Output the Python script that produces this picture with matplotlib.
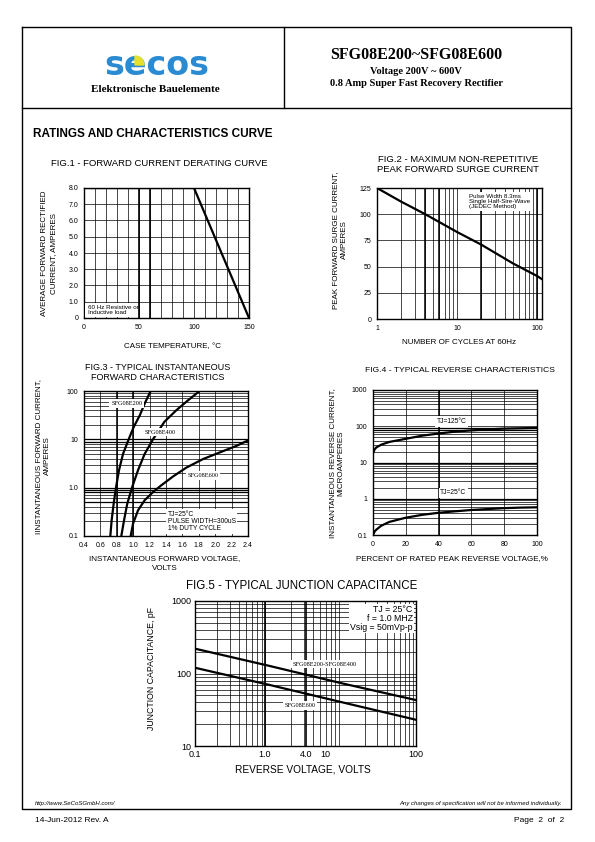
import matplotlib
matplotlib.use("Agg")
import matplotlib.pyplot as plt
import numpy as np
from matplotlib.patches import Rectangle, Wedge
from matplotlib.ticker import LogLocator, MultipleLocator, NullFormatter

W, H = 595, 842

# ---- values ----
# Fig.1 derating
derate_temp_c = [0, 100, 150]
derate_current_a = [8.0, 8.0, 0.0]

# Fig.2 surge current
surge_cycles = [1, 2, 4, 10, 20, 50, 100, 115]
surge_current_a = [125, 112, 100, 83, 71, 53, 41, 38]

# Fig.3 forward characteristics
vf_e200 = [0.721, 0.737, 0.762, 0.790, 0.827, 0.876, 0.945, 1.006, 1.079, 1.14, 1.213]
if_e200 = [0.1, 0.21, 0.47, 1.0, 2.3, 5.0, 10, 18, 31, 55, 100]
vf_e400 = [0.855, 0.888, 0.928, 0.985, 1.059, 1.14, 1.241, 1.38, 1.526, 1.668, 1.81]
if_e400 = [0.1, 0.21, 0.47, 1.0, 2.3, 5.0, 10, 23, 40, 64, 100]
vf_e600 = [0.969, 0.998, 1.059, 1.14, 1.241, 1.343, 1.485, 1.648, 1.851, 2.095, 2.258, 2.4]
if_e600 = [0.1, 0.18, 0.34, 0.55, 0.81, 1.12, 1.7, 2.6, 3.9, 5.7, 7.3, 9.5]

# Fig.4 reverse characteristics
rev_pct = [0, 1, 2, 5, 10, 20, 30, 40, 50, 60, 70, 80, 90, 100]
ir_125c = [18, 23, 26, 31, 37, 45, 55, 63, 71, 77, 82, 86, 88, 90]
ir_25c = [0.1, 0.125, 0.14, 0.18, 0.23, 0.30, 0.36, 0.41, 0.45, 0.49, 0.52, 0.55, 0.57, 0.58]

# Fig.5 junction capacitance
vr_volts = [0.1, 1, 10, 100]
cj_e200_e400 = [220, 128, 73, 43]
cj_e600 = [120, 70, 40, 23]
cap_tick_pos = [0.1, 0.89, 3.2, 5.8, 100]
cap_tick_labels = ["0.1", "1.0", "4.0", "10", "100"]

SANS = "Liberation Sans"
SERIF = "Liberation Serif"
BLUE = "#2a8bd3"

plt.rcParams["font.family"] = SANS

fig = plt.figure(figsize=(W / 100, H / 100), dpi=100)

# page overlay in pixel coordinates
page = fig.add_axes([0, 0, 1, 1])
page.set_xlim(0, W)
page.set_ylim(H, 0)
page.axis("off")


def chart_axes(x0, y0, x1, y1):
    ax = fig.add_axes([x0 / W, 1 - y1 / H, (x1 - x0) / W, (y1 - y0) / H])
    ax.set_axisbelow(True)
    for sp in ax.spines.values():
        sp.set_linewidth(1.0)
    ax.tick_params(which="both", length=0, labelsize=5, pad=4)
    return ax


def grid_lines(ax):
    ax.grid(True, which="both", color="black", lw=0.5)


def label_box(ax, x, y, text, size=4.5, family=SANS, **kw):
    ax.text(x, y, text, fontsize=size, family=family, zorder=5,
            bbox=dict(facecolor="white", edgecolor="none", pad=1.2), **kw)


# ---------- page frame and header ----------
page.plot([22, 571, 571, 22, 22], [27, 27, 809, 809, 27], color="black", lw=1.0)
page.plot([22, 571], [108, 108], color="black", lw=1.0)
page.plot([284, 284], [27, 108], color="black", lw=1.0)

page.text(157, 75, "secos", family="DejaVu Sans", weight="heavy", size=24,
          color=BLUE, ha="center", va="baseline")
page.add_patch(Wedge((135, 65), 9, 270, 360, color="#e6e02a", zorder=3))
page.text(155, 89, "Elektronische Bauelemente", family=SERIF, weight="bold",
          size=8, ha="center", va="center")

page.text(416, 55, "SFG08E200~SFG08E600", family=SERIF, weight="bold",
          size=11.5, ha="center", va="center")
page.text(416, 71, "Voltage 200V ~ 600V", family=SERIF, weight="bold",
          size=7.5, ha="center", va="center")
page.text(416, 84, "0.8 Amp Super Fast Recovery Rectifier", family=SERIF,
          weight="bold", size=7.5, ha="center", va="center")

page.text(33, 134, "RATINGS AND CHARACTERISTICS CURVE", weight="bold",
          size=8.5, ha="left", va="center")

# ---------- footer ----------
page.text(35, 803, "http://www.SeCoSGmbH.com/", style="italic", size=4.3,
          ha="left", va="center")
page.text(562, 803, "Any changes of specification will not be informed individually.",
          style="italic", size=4.3, ha="right", va="center")
page.text(35, 820, "14-Jun-2012 Rev. A", size=6, ha="left", va="center")
page.text(564, 820, "Page  2  of  2", size=6, ha="right", va="center")

# ---------- FIG.1 ----------
ax1 = chart_axes(84, 188, 249, 318)
ax1.plot(derate_temp_c, derate_current_a, color="black", lw=1.6, zorder=4,
         solid_capstyle="butt")
ax1.set_xlim(0, 150)
ax1.set_ylim(0, 8)
ax1.set_xticks([0, 50, 100, 150], labels=["0", "50", "100", "150"])
ax1.xaxis.set_minor_locator(MultipleLocator(10))
ax1.set_yticks(range(9), labels=["0"] + [f"{v:.1f}" for v in range(1, 9)])
grid_lines(ax1)
for xv in (50, 60):
    ax1.axvline(xv, color="black", lw=1.2, zorder=1)
ax1.add_patch(Rectangle((0.5, 0.05), 49, 0.9, facecolor="white",
                        edgecolor="none", zorder=3))
ax1.text(4, 0.5, "60 Hz Resistive or\nInductive load", fontsize=4.5,
         va="center", ha="left", zorder=5, linespacing=1.1)
page.text(159, 163, "FIG.1 - FORWARD CURRENT DERATING CURVE", size=6.8,
          ha="center", va="center")
page.text(49, 253, "AVERAGE FORWARD RECTIFIED\nCURRENT, AMPERES", size=5.8,
          rotation=90, ha="center", va="center", linespacing=1.3)
page.text(173, 347, "CASE TEMPERATURE, °C", size=5.8, ha="center", va="center")

# ---------- FIG.2 ----------
ax2 = chart_axes(377, 188, 542, 319)
ax2.plot(surge_cycles, surge_current_a, color="black", lw=1.6, zorder=4)
ax2.set_xscale("log")
ax2.set_xlim(1, 115)
ax2.set_ylim(0, 125)
ax2.set_xticks([1, 10, 100], labels=["1", "10", "100"])
ax2.xaxis.set_minor_locator(LogLocator(base=10, subs=np.arange(2, 10)))
ax2.xaxis.set_minor_formatter(NullFormatter())
ax2.set_yticks([0, 25, 50, 75, 100, 125])
grid_lines(ax2)
for xv in (4, 6, 20, 100):
    ax2.axvline(xv, color="black", lw=1.1, zorder=1)
label_box(ax2, 0.56, 0.955, "Pulse Width 8.3ms\nSingle Half-Sire-Wave\n(JEDEC Method)",
          transform=ax2.transAxes, va="top", ha="left", linespacing=1.0)
page.text(458, 160, "FIG.2 - MAXIMUM NON-REPETITIVE", size=6.8, ha="center", va="center")
page.text(458, 170, "PEAK FORWARD SURGE CURRENT", size=6.8, ha="center", va="center")
page.text(340, 240, "PEAK FORWARD SURGE CURRENT,\nAMPERES", size=5.8,
          rotation=90, ha="center", va="center", linespacing=1.2)
page.text(459, 343, "NUMBER OF CYCLES AT 60Hz", size=5.8, ha="center", va="center")

# ---------- FIG.3 ----------
ax3 = chart_axes(84, 391, 248, 536)
for vf, ifw in ((vf_e200, if_e200), (vf_e400, if_e400), (vf_e600, if_e600)):
    ax3.plot(vf, ifw, color="black", lw=1.6, zorder=4)
ax3.set_yscale("log")
ax3.set_xlim(0.4, 2.4)
ax3.set_ylim(0.1, 100)
xt3 = np.round(np.arange(0.4, 2.41, 0.2), 1)
ax3.set_xticks(xt3, labels=[f"{v:.1f}" for v in xt3])
ax3.set_yticks([0.1, 1, 10, 100], labels=["0.1", "1.0", "10", "100"])
ax3.yaxis.set_minor_locator(LogLocator(base=10, subs=np.arange(2, 10)))
ax3.yaxis.set_minor_formatter(NullFormatter())
grid_lines(ax3)
for xv in (0.8, 1.0):
    ax3.axvline(xv, color="black", lw=1.1, zorder=1)
for yv in (0.5, 0.8, 0.9, 1.0, 9, 10):
    ax3.axhline(yv, color="black", lw=0.9, zorder=1)
label_box(ax3, 0.92, 55, "SFG08E200", family=SERIF, ha="center", va="center")
label_box(ax3, 1.33, 14, "SFG08E400", family=SERIF, ha="center", va="center")
label_box(ax3, 1.85, 1.8, "SFG08E600", family=SERIF, ha="center", va="center")
label_box(ax3, 1.42, 0.2, "TJ=25°C\nPULSE WIDTH=300uS\n1% DUTY CYCLE", size=4.8,
          ha="left", va="center", linespacing=1.0)
page.text(158, 367, "FIG.3 - TYPICAL INSTANTANEOUS", size=6.5, ha="center", va="center")
page.text(158, 378, "FORWARD CHARACTERISTICS", size=6.5, ha="center", va="center")
page.text(43, 456, "IINSTANTANEOUS FORWARD CURRENT,\nAMPERES", size=5.8,
          rotation=90, ha="center", va="center", linespacing=1.2)
page.text(165, 559, "INSTANTANEOUS FORWARD VOLTAGE,", size=5.8, ha="center", va="center")
page.text(165, 568, "VOLTS", size=5.8, ha="center", va="center")

# ---------- FIG.4 ----------
ax4 = chart_axes(373, 390, 537, 535)
ax4.plot(rev_pct, ir_125c, color="black", lw=1.6, zorder=4)
ax4.plot(rev_pct, ir_25c, color="black", lw=1.6, zorder=4)
ax4.set_yscale("log")
ax4.set_xlim(0, 100)
ax4.set_ylim(0.1, 1000)
ax4.set_xticks([0, 20, 40, 60, 80, 100])
ax4.set_yticks([0.1, 1, 10, 100, 1000], labels=["0.1", "1", "10", "100", "1000"])
ax4.yaxis.set_minor_locator(LogLocator(base=10, subs=np.arange(2, 10)))
ax4.yaxis.set_minor_formatter(NullFormatter())
grid_lines(ax4)
ax4.axvline(40, color="black", lw=1.1, zorder=1)
for yv in (1, 10, 80, 90):
    ax4.axhline(yv, color="black", lw=0.9, zorder=1)
label_box(ax4, 48, 135, "TJ=125°C", size=4.8, ha="center", va="center")
label_box(ax4, 49, 1.45, "TJ=25°C", size=4.8, ha="center", va="center")
page.text(460, 370, "FIG.4 - TYPICAL REVERSE CHARACTERISTICS", size=6.1,
          ha="center", va="center")
page.text(337, 463, "INSTANTANEOUS REVERSE CURRENT,\nMICROAMPERES", size=5.8,
          rotation=90, ha="center", va="center", linespacing=1.2)
page.text(452, 559, "PERCENT OF RATED PEAK REVERSE VOLTAGE,%", size=5.8,
          ha="center", va="center")

# ---------- FIG.5 ----------
ax5 = chart_axes(195, 601, 416, 746)
ax5.plot(vr_volts, cj_e200_e400, color="black", lw=1.6, zorder=4)
ax5.plot(vr_volts, cj_e600, color="black", lw=1.6, zorder=4)
ax5.set_xscale("log")
ax5.set_yscale("log")
ax5.set_xlim(0.1, 100)
ax5.set_ylim(10, 1000)
ax5.xaxis.set_minor_locator(LogLocator(base=10, subs=np.arange(2, 10)))
ax5.xaxis.set_minor_formatter(NullFormatter())
ax5.yaxis.set_minor_locator(LogLocator(base=10, subs=np.arange(2, 10)))
ax5.yaxis.set_minor_formatter(NullFormatter())
grid_lines(ax5)
ax5.set_xticks(cap_tick_pos, labels=cap_tick_labels)
ax5.set_yticks([10, 100, 1000], labels=["10", "100", "1000"])
ax5.tick_params(which="both", labelsize=6.5, pad=3)
ax5.grid(False, which="major", axis="x")
for xv in (0.89, 3.2):
    ax5.axvline(xv, color="black", lw=1.2, zorder=1)
label_box(ax5, 5.8, 134, "SFG08E200-SFG08E400", family=SERIF, ha="center", va="center")
label_box(ax5, 2.67, 36, "SFG08E600", family=SERIF, ha="center", va="center")
label_box(ax5, 0.985, 0.97, "TJ = 25°C\nf = 1.0 MHZ\nVsig = 50mVp-p", size=6.3,
          transform=ax5.transAxes, ha="right", va="top", linespacing=0.95)
page.text(302, 586, "FIG.5 - TYPICAL JUNCTION CAPACITANCE", size=8.3,
          ha="center", va="center")
page.text(151, 668, "JUNCTION CAPACITANCE, pF", size=6.3, rotation=90,
          ha="center", va="center")
page.text(303, 770, "REVERSE VOLTAGE, VOLTS", size=7.3, ha="center", va="center")

fig.savefig("out.png", dpi=100)
